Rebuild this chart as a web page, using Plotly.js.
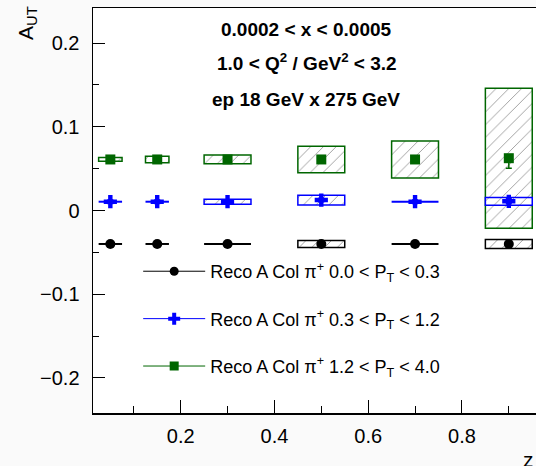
<!DOCTYPE html>
<html>
<head>
<meta charset="utf-8">
<script src="https://cdn.plot.ly/plotly-3.0.1.min.js"></script>
<style>html,body{margin:0;padding:0;overflow:hidden;background:#fafafa;}</style>
</head>
<body>
<div id="chart" style="width:536px;height:466px;"></div>
<script>
// z bin centres and half-widths
const zVals = [0.05, 0.15, 0.30, 0.50, 0.70, 0.90];
const zHalfWidth = [0.025, 0.025, 0.05, 0.05, 0.05, 0.05];

// Series: 0.0 < PT < 0.3 (black)
const lowPtVals = [-0.040, -0.040, -0.040, -0.040, -0.040, -0.040];
const lowPtStat = [0.002, 0.002, 0.002, 0.002, 0.002, 0.003];
const lowPtSyst = [null, null, null, 0.0042, null, 0.0054];

// Series: 0.3 < PT < 1.2 (blue)
const midPtVals = [0.0105, 0.0105, 0.0105, 0.0125, 0.0105, 0.011];
const midPtStat = [0.002, 0.002, 0.002, 0.002, 0.002, 0.003];
const midPtSyst = [null, null, 0.003, 0.0058, null, 0.0046];

// Series: 1.2 < PT < 4.0 (green)
const highPtVals = [0.061, 0.061, 0.061, 0.061, 0.061, 0.0625];
const highPtStatUp = [0.002, 0.002, 0.002, 0.003, 0.003, 0.004];
const highPtStatDown = [0.002, 0.002, 0.002, 0.003, 0.003, 0.012];
const highPtSyst = [0.0022, 0.0038, 0.0052, 0.0159, 0.0221, 0.0836];

const seriesNames = [
  "Reco A Col π<sup>+</sup> 0.0 &lt; P<sub>T</sub> &lt; 0.3",
  "Reco A Col π<sup>+</sup> 0.3 &lt; P<sub>T</sub> &lt; 1.2",
  "Reco A Col π<sup>+</sup> 1.2 &lt; P<sub>T</sub> &lt; 4.0"
];

const BLACK = "#000000", BLUE = "#0000ff", GREEN = "#006600";
const FONT = "Liberation Sans, Arial, Helvetica, sans-serif";

function systBox(vals, syst, color) {
  return {
    type: "bar",
    x: zVals,
    y: syst.map(s => s == null ? null : 2 * s),
    base: vals.map((v, i) => syst[i] == null ? null : v - syst[i]),
    width: zHalfWidth.map(w => 2 * w),
    marker: {
      color: "white",
      line: {color: color, width: 1.5},
      pattern: {shape: "/", fgcolor: "#9a9a9a", bgcolor: "white", size: 9, solidity: 0.1}
    },
    showlegend: false,
    hoverinfo: "skip"
  };
}

function points(vals, syst, up, down, color, symbol, size) {
  // the horizontal bar is hidden where a systematic box is drawn
  const xerr = zHalfWidth.map((w, i) => syst[i] == null ? w : 0);
  return {
    type: "scatter",
    mode: "markers",
    x: zVals,
    y: vals,
    marker: {color: color, symbol: symbol, size: size},
    error_x: {type: "data", array: xerr, color: color, thickness: 2, width: 0},
    error_y: {type: "data", symmetric: false, array: up, arrayminus: down, color: color, thickness: 1.5, width: 3},
    showlegend: false
  };
}

function legendProxy(name, color, symbol, size, grp) {
  return {
    type: "scatter",
    mode: "lines+markers",
    x: [null], y: [null],
    name: name,
    legendgroup: grp,
    line: {color: color, width: 1},
    marker: {color: color, symbol: symbol, size: size}
  };
}

const data = [
  systBox(highPtVals, highPtSyst, GREEN),
  systBox(midPtVals, midPtSyst, BLUE),
  systBox(lowPtVals, lowPtSyst, BLACK),
  points(highPtVals, highPtSyst, highPtStatUp, highPtStatDown, GREEN, "square", 10),
  points(midPtVals, midPtSyst, midPtStat, midPtStat, BLUE, "cross", 11),
  points(lowPtVals, lowPtSyst, lowPtStat, lowPtStat, BLACK, "circle", 10),
  legendProxy(seriesNames[0], BLACK, "circle", 9, "g1"),
  legendProxy(seriesNames[1], BLUE, "cross", 10, "g2"),
  legendProxy(seriesNames[2], GREEN, "square", 9, "g3")
];

const layout = {
  width: 536, height: 466,
  margin: {l: 93, r: 0, t: 8, b: 53},
  paper_bgcolor: "#fafafa",
  plot_bgcolor: "white",
  barmode: "overlay",
  font: {family: FONT, color: "black"},
  xaxis: {
    range: [0.013, 0.958],
    dtick: 0.2, tick0: 0,
    ticks: "inside", ticklen: 13, tickwidth: 1, tickcolor: "black",
    minor: {dtick: 0.1, tick0: 0, ticks: "inside", ticklen: 7, tickcolor: "black", showgrid: false},
    showline: true, linecolor: "black", linewidth: 1.5, mirror: true,
    showgrid: false, zeroline: false,
    tickfont: {size: 20, family: FONT},
    ticklabelstandoff: 4
  },
  yaxis: {
    range: [-0.242, 0.242],
    dtick: 0.1, tick0: 0,
    ticks: "inside", ticklen: 12, tickwidth: 1, tickcolor: "black",
    minor: {dtick: 0.05, tick0: 0, ticks: "inside", ticklen: 6, tickcolor: "black", showgrid: false},
    showline: true, linecolor: "black", linewidth: 1.5,
    showgrid: false, zeroline: false,
    tickfont: {size: 20, family: FONT},
    ticklabelstandoff: 8
  },
  showlegend: true,
  legend: {
    x: 0.102, y: 0.395, xanchor: "left", yanchor: "top",
    bgcolor: "rgba(0,0,0,0)", borderwidth: 0,
    font: {size: 18, family: FONT},
    tracegroupgap: 21,
    itemwidth: 62,
    traceorder: "grouped"
  },
  annotations: [
    {xref: "paper", yref: "paper", x: 0.481, y: 0.946, text: "<b>0.0002 &lt; x &lt; 0.0005</b>",
     showarrow: false, font: {size: 19, family: FONT}, xanchor: "center", yanchor: "middle"},
    {xref: "paper", yref: "paper", x: 0.484, y: 0.867, text: "<b>1.0 &lt; Q<sup>2</sup> / GeV<sup>2</sup> &lt; 3.2</b>",
     showarrow: false, font: {size: 19, family: FONT}, xanchor: "center", yanchor: "middle"},
    {xref: "paper", yref: "paper", x: 0.481, y: 0.773, text: "<b>ep 18 GeV x 275 GeV</b>",
     showarrow: false, font: {size: 19, family: FONT}, xanchor: "center", yanchor: "middle"},
    {xref: "paper", yref: "paper", x: -0.149, y: 0.963, text: "A<sub>UT</sub>", textangle: -90,
     showarrow: false, font: {size: 21, family: FONT}, xanchor: "center", yanchor: "middle"},
    {xref: "paper", yref: "paper", x: 1.0, y: -0.115, text: "z",
     showarrow: false, font: {size: 21, family: FONT}, xanchor: "right", yanchor: "middle"}
  ]
};

Plotly.newPlot("chart", data, layout, {displayModeBar: false, staticPlot: true});
</script>
</body>
</html>
